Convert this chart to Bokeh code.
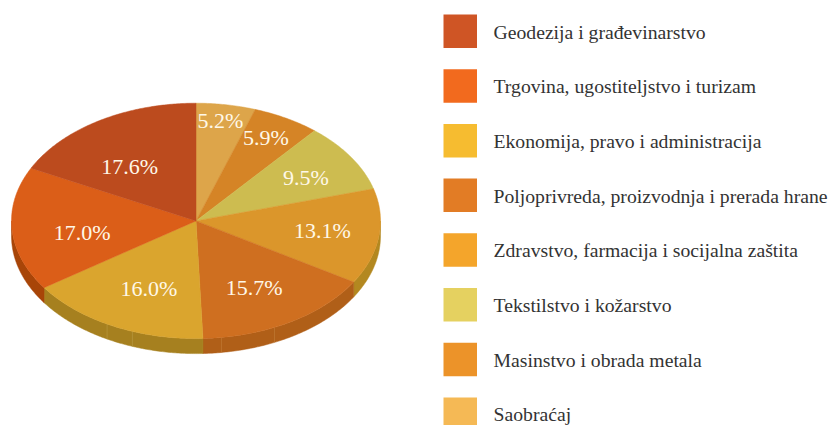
import math
from bokeh.core.properties import value
from bokeh.embed import file_html
from bokeh.models import ColumnDataSource, Range1d
from bokeh.plotting import figure
from bokeh.resources import INLINE

categories = ["Geodezija i građevinarstvo", "Trgovina, ugostiteljstvo i turizam",
              "Ekonomija, pravo i administracija", "Poljoprivreda, proizvodnja i prerada hrane",
              "Zdravstvo, farmacija i socijalna zaštita", "Tekstilstvo i kožarstvo",
              "Masinstvo i obrada metala", "Saobraćaj"]
shares = [17.6, 17.0, 16.0, 15.7, 13.1, 9.5, 5.9, 5.2]
legend_colors = ["#CF5525", "#F26A1E", "#F6BC30", "#E27C25", "#F4A52B", "#E5D160", "#EC9329", "#F5B955"]
top_colors = ["#BC4B1E", "#DB5E18", "#DAA52E", "#CF6F20", "#DB962B", "#CDBC50", "#D58426", "#DDA54A"]
side_colors = ["#8E3A14", "#A84508", "#A6801F", "#B05F18", "#B38820", "#9E9038", "#A0641C", "#A87C36"]
label_fx = [0.67, 0.61, 0.55, 0.64, 0.70, 0.72, 0.79, 0.86]
label_fy = [0.53, 1.50, 0.65, 0.67, 0.70, 0.67, 0.80, 0.86]
side_seams = [43.0, 47.8, 55.6, 58.0]  # cumulative percent, clockwise from the top
seam_colors = ["#C07A35", "#C07A35", "#B8963F", "#B8963F"]

W, H = 828, 425
CX, CY, RX, RY, DEPTH = 195.5, 220.4, 184.5, 117.7, 15.0
LABEL_DX, LABEL_DY = -1.5, -1.0

p = figure(width=W, height=H, output_backend="svg", toolbar_location=None,
           x_range=Range1d(0, W), y_range=Range1d(H, 0), min_border=0,
           margin=(0, 0, 0, 0), outline_line_color=None)
p.axis.visible = False
p.grid.visible = False


def rim(a):
    return CX + RX * math.sin(a), CY - RY * math.cos(a)


def arc(a0, a1):
    n = max(2, int(abs(a1 - a0) / 0.01))
    return [rim(a0 + (a1 - a0) * k / n) for k in range(n + 1)]


# slices run clockwise from 12 o'clock, smallest share first
order = list(range(len(shares)))[::-1]
start = 0.0
tops_x, tops_y, tops_c = [], [], []
sides_x, sides_y, sides_c = [], [], []
lx, ly, lt = [], [], []
for i in order:
    end = start + shares[i] / sum(shares) * 2 * math.pi
    pts = arc(start, end)
    tops_x.append([CX] + [q[0] for q in pts])
    tops_y.append([CY] + [q[1] for q in pts])
    tops_c.append(top_colors[i])
    s0, s1 = max(start, math.pi / 2), min(end, 3 * math.pi / 2)
    if s1 > s0:
        e = arc(s0, s1)
        sides_x.append([q[0] for q in e] + [q[0] for q in e[::-1]])
        sides_y.append([q[1] for q in e] + [q[1] + DEPTH for q in e[::-1]])
        sides_c.append(side_colors[i])
    mid = (start + end) / 2
    lx.append(CX + label_fx[i] * RX * math.sin(mid) + LABEL_DX)
    ly.append(CY - label_fy[i] * RY * math.cos(mid) + LABEL_DY)
    lt.append(f"{shares[i]:.1f}%")
    start = end

p.patches(xs=sides_x, ys=sides_y, fill_color=sides_c, line_color=sides_c, line_width=0.5)
seam_pts = [rim(s / 100 * 2 * math.pi) for s in side_seams]
p.segment(x0=[q[0] for q in seam_pts], y0=[q[1] for q in seam_pts],
          x1=[q[0] for q in seam_pts], y1=[q[1] + DEPTH for q in seam_pts],
          line_color=seam_colors, line_width=0.7)
p.patches(xs=tops_x, ys=tops_y, fill_color=tops_c, line_color=tops_c, line_width=0.5)
p.text(x=lx, y=ly, text=lt, text_color="#FFF8E8", text_font=value("Liberation Serif"),
       text_font_size="22px", text_align="center", text_baseline="middle")

rows = list(range(len(categories)))
row_y = [31.0 + r * 54.7 for r in rows]
src = ColumnDataSource(dict(top=[y - 17 for y in row_y], bottom=[y + 16.5 for y in row_y],
                            color=legend_colors, label=categories, y=row_y))
p.quad(left=443, right=476.5, top="top", bottom="bottom", fill_color="color", line_color=None, source=src)
p.text(x=493, y="y", text="label", source=src, text_color="#333333", text_font=value("Liberation Serif"),
       text_font_size="19.7px", text_baseline="middle")

open("out.html", "w").write(file_html(p, INLINE))
